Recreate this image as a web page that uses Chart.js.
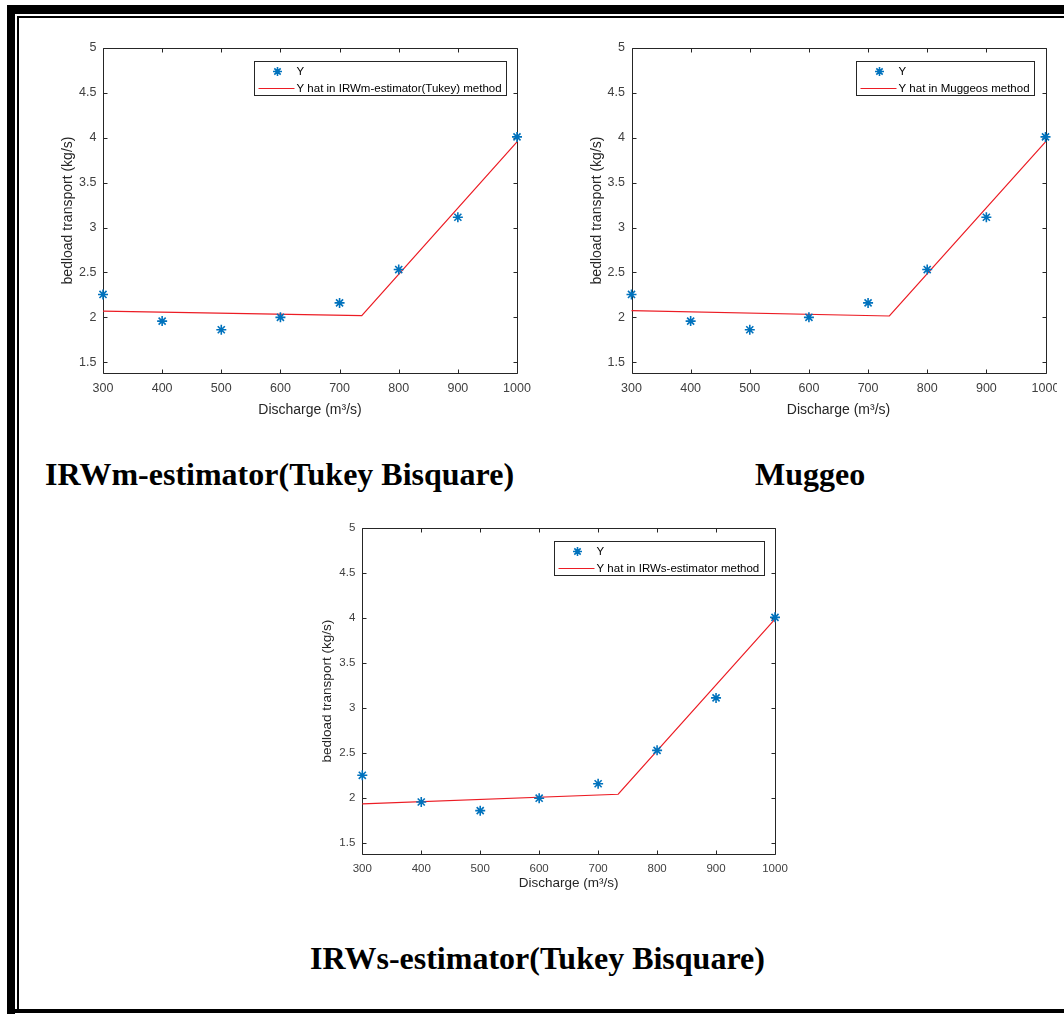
<!DOCTYPE html>
<html>
<head>
<meta charset="utf-8">
<script src="https://cdn.jsdelivr.net/npm/chart.js@4.4.0/dist/chart.umd.min.js"></script>
<style>
html, body { margin: 0; padding: 0; background: #fff; }
#page { position: relative; width: 1064px; height: 1014px; overflow: hidden; background: #fff; }
.bar { position: absolute; background: #000; }
.holder { position: absolute; }
.holder canvas { display: block; }
.caption {
    position: absolute; white-space: nowrap; color: #000;
    font-family: "Liberation Serif", "Times New Roman", serif;
    font-weight: bold; font-size: 32px; line-height: 32px;
}
</style>
</head>
<body>
<div id="page">
    <div class="bar" style="left:7px;top:5px;width:1060px;height:9px;"></div>
    <div class="bar" style="left:7px;top:5px;width:8px;height:1009px;"></div>
    <div class="bar" style="left:17px;top:16px;width:1050px;height:2px;"></div>
    <div class="bar" style="left:17px;top:16px;width:2px;height:996px;"></div>
    <div class="bar" style="left:7px;top:1009px;width:1060px;height:4px;"></div>

    <div class="holder" style="left:45px;top:30px;"><canvas id="chartIrwm" width="495" height="400"></canvas></div>
    <div class="holder" style="left:577px;top:30px;"><canvas id="chartMuggeo" width="480" height="400"></canvas></div>
    <div class="holder" style="left:300px;top:510px;"><canvas id="chartIrws" width="500" height="390"></canvas></div>

    <div class="caption" style="left:45px;top:458px;">IRWm-estimator(Tukey Bisquare)</div>
    <div class="caption" style="left:755px;top:458px;">Muggeo</div>
    <div class="caption" style="left:310px;top:942px;">IRWs-estimator(Tukey Bisquare)</div>
</div>

<script>
// observed data (same in all three panels)
const discharge = [300, 400, 500, 600, 700, 800, 900, 1000];
const bedload = [2.255, 1.958, 1.862, 2.0, 2.161, 2.532, 3.115, 4.01];

// fitted broken lines
const irwmFitX = [300, 737.5, 1000];
const irwmFitY = [2.07, 2.02, 3.955];
const muggeoFitX = [300, 736, 1000];
const muggeoFitY = [2.075, 2.015, 3.955];
const irwsFitX = [300, 734, 1000];
const irwsFitY = [1.937, 2.044, 3.99];

const xTicks = [300, 400, 500, 600, 700, 800, 900, 1000];
const yTicks = [1.5, 2, 2.5, 3, 3.5, 4, 4.5, 5];
const xMin = 300, xMax = 1000, yMin = 1.38, yMax = 5;

const toPoints = (xs, ys) => xs.map((v, i) => ({ x: v, y: ys[i] }));

// MATLAB style box with inward ticks on all sides
const axesBox = {
    id: 'axesBox',
    beforeDatasetsDraw(chart) {
        const { ctx, chartArea: a, scales: { x, y } } = chart;
        const L = Math.round(a.left) + 0.5, R = Math.round(a.right) + 0.5;
        const T = Math.round(a.top) + 0.5, B = Math.round(a.bottom) + 0.5;
        ctx.save();
        ctx.strokeStyle = '#262626';
        ctx.lineWidth = 1;
        ctx.beginPath();
        x.ticks.forEach(t => {
            const px = Math.round(x.getPixelForValue(t.value)) + 0.5;
            ctx.moveTo(px, B); ctx.lineTo(px, B - 4);
            ctx.moveTo(px, T); ctx.lineTo(px, T + 4);
        });
        y.ticks.forEach(t => {
            const py = Math.round(y.getPixelForValue(t.value)) + 0.5;
            ctx.moveTo(L, py); ctx.lineTo(L + 4, py);
            ctx.moveTo(R, py); ctx.lineTo(R - 4, py);
        });
        ctx.rect(L, T, R - L, B - T);
        ctx.stroke();
        ctx.restore();
    }
};

// legend box inside the top right corner
const boxLegend = {
    id: 'boxLegend',
    afterDatasetsDraw(chart, args, opts) {
        const { ctx, chartArea: a } = chart;
        const ds = chart.data.datasets;
        ctx.save();
        ctx.font = opts.font;
        const tw = Math.max(...ds.map(d => ctx.measureText(d.label).width));
        const w = Math.round(tw + 47), h = 34;
        const x = Math.round(a.right - 11.5 - w) + 0.5, y = Math.round(a.top + 12.5) + 0.5;
        ctx.fillStyle = '#fff';
        ctx.fillRect(x, y, w, h);
        ctx.strokeStyle = '#262626';
        ctx.lineWidth = 1;
        ctx.strokeRect(x, y, w, h);

        ctx.strokeStyle = ds[0].borderColor;
        ctx.lineWidth = 1.6;
        Chart.helpers.drawPoint(ctx, { pointStyle: 'star', radius: 4.5, borderWidth: 1.6, rotation: 0 }, x + 23, y + 10);

        ctx.strokeStyle = ds[1].borderColor;
        ctx.lineWidth = 1.2;
        ctx.beginPath();
        ctx.moveTo(x + 4, y + 27);
        ctx.lineTo(x + 40, y + 27);
        ctx.stroke();

        ctx.fillStyle = '#000';
        ctx.textBaseline = 'middle';
        ctx.textAlign = 'left';
        ctx.fillText(ds[0].label, x + 42, y + 10);
        ctx.fillText(ds[1].label, x + 42, y + 27);
        ctx.restore();
    }
};

function makeChart(id, lineLabel, fitX, fitY, f) {
    const el = document.getElementById(id);
    new Chart(el.getContext('2d'), {
        type: 'scatter',
        data: {
            datasets: [
                {
                    label: 'Y',
                    data: toPoints(discharge, bedload),
                    pointStyle: 'star',
                    pointRadius: 5,
                    pointBorderWidth: 1.6,
                    borderColor: '#0072BD',
                    backgroundColor: '#0072BD',
                    showLine: false,
                    clip: false,
                    order: 1,
                },
                {
                    label: lineLabel,
                    data: toPoints(fitX, fitY),
                    showLine: true,
                    pointRadius: 0,
                    borderColor: '#ec1c24',
                    borderWidth: 1.2,
                    clip: false,
                    order: 2,
                },
            ],
        },
        options: {
            responsive: false,
            animation: false,
            events: [],
            layout: { padding: { left: 0, top: f.padTop, right: f.padRight, bottom: 0 } },
            scales: {
                x: {
                    type: 'linear',
                    min: xMin,
                    max: xMax,
                    afterBuildTicks: s => { s.ticks = xTicks.map(v => ({ value: v })); },
                    afterFit: s => { s.height = f.xHeight; s.paddingLeft = 0; s.paddingRight = 0; },
                    grid: { display: false, drawTicks: false },
                    border: { display: false },
                    ticks: {
                        color: '#404040',
                        font: { family: 'Liberation Sans', size: f.tickSize },
                        padding: f.xTickPad,
                        maxRotation: 0,
                        autoSkip: false,
                        callback: v => String(v),
                    },
                    title: {
                        display: true,
                        text: 'Discharge (m³/s)',
                        color: '#262626',
                        font: { family: 'Liberation Sans', size: f.titleSize },
                        padding: { top: 0, bottom: f.xTitlePad },
                    },
                },
                y: {
                    type: 'linear',
                    min: yMin,
                    max: yMax,
                    afterBuildTicks: s => { s.ticks = yTicks.map(v => ({ value: v })); },
                    afterFit: s => { s.width = f.yWidth; s.paddingTop = 0; s.paddingBottom = 0; },
                    grid: { display: false, drawTicks: false },
                    border: { display: false },
                    ticks: {
                        color: '#404040',
                        font: { family: 'Liberation Sans', size: f.tickSize },
                        padding: f.yTickPad,
                        autoSkip: false,
                        callback: v => String(v),
                    },
                    title: {
                        display: true,
                        text: 'bedload transport (kg/s)',
                        color: '#262626',
                        font: { family: 'Liberation Sans', size: f.titleSize },
                        padding: { top: f.yTitlePad, bottom: 0 },
                    },
                },
            },
            plugins: {
                legend: { display: false },
                tooltip: { enabled: false },
                boxLegend: { font: '11.5px "Liberation Sans"' },
            },
        },
        plugins: [axesBox, boxLegend],
    });
}

makeChart('chartIrwm', 'Y hat in IRWm-estimator(Tukey) method', irwmFitX, irwmFitY, {
    padTop: 18, padRight: 23, xHeight: 57, yWidth: 58,
    tickSize: 12.5, titleSize: 14, xTickPad: 8, yTickPad: 6.5, xTitlePad: 11.6, yTitlePad: 14.6,
});
makeChart('chartMuggeo', 'Y hat in Muggeos method', muggeoFitX, muggeoFitY, {
    padTop: 18, padRight: 11.5, xHeight: 57, yWidth: 54.5,
    tickSize: 12.5, titleSize: 14, xTickPad: 8, yTickPad: 6.5, xTitlePad: 11.6, yTitlePad: 12.1,
});
makeChart('chartIrws', 'Y hat in IRWs-estimator method', irwsFitX, irwsFitY, {
    padTop: 18.3, padRight: 25, xHeight: 46, yWidth: 62.3,
    tickSize: 11.5, titleSize: 13.5, xTickPad: 7.5, yTickPad: 7, xTitlePad: 8.4, yTitlePad: 19.4,
});
</script>
</body>
</html>
